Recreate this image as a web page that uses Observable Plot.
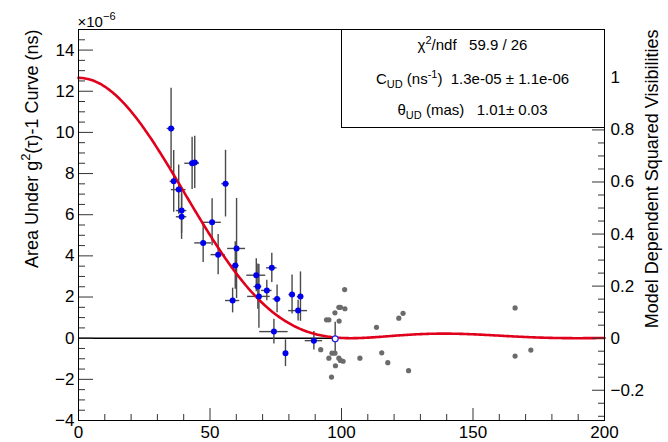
<!DOCTYPE html>
<html><head><meta charset="utf-8">
<script src="https://cdn.jsdelivr.net/npm/d3@7"></script>
<script src="https://cdn.jsdelivr.net/npm/@observablehq/plot@0.6"></script>
<style>
html,body{margin:0;padding:0;background:#fff;}
#chart svg{display:block;}
</style></head><body><div id="chart"></div>
<script>
// ---- data (baseline in m, area in units of 1e-6 ns) ----
const blueX  = [35.2, 36.2, 38.1, 39.2, 39.2, 43.2, 44.2, 47.4, 50.8, 53.1, 55.9, 58.6, 59.6, 60.1, 67.6, 68.2, 68.6, 71.6, 73.5, 75.5, 74.3, 78.7, 81.2, 84.4, 83.5, 89.5];
const blueY  = [10.19, 7.62, 7.22, 6.2, 5.9, 8.5, 8.54, 4.63, 5.63, 4.06, 7.51, 1.83, 3.53, 4.36, 3.06, 2.51, 2.03, 2.32, 3.42, 1.91, 0.32, -0.73, 2.12, 2.02, 1.34, -0.12];
const blueEx = [1.5, 1.4, 2.8, 2.0, 2.0, 2.8, 1.6, 3.2, 3.5, 2.7, 1.4, 2.7, 1.5, 3.4, 3.6, 1.5, 4.3, 2.0, 2.0, 1.5, 5.4, 0.5, 1.2, 1.2, 3.6, 3.3];
const blueEy = [1.96, 1.5, 1.2, 1.1, 1.1, 1.27, 1.27, 0.95, 1.14, 0.98, 1.62, 0.6, 1.15, 2.43, 0.8, 1.1, 1.55, 0.5, 0.71, 0.68, 0.6, 0.65, 0.95, 1.2, 0.5, 0.45];
const edgeX  = [97.6];
const edgeY  = [-0.03];
const edgeEy = [0.8];
const grayX = [101.2, 99.0, 99.6, 101.3, 97.5, 94.3, 95.2, 99.1, 92.1, 96.4, 97.5, 95.2, 99.0, 99.6, 100.6, 97.7, 96.2, 107.0, 113.3, 115.3, 117.6, 121.8, 123.4, 125.5, 166.0, 166.0, 172.0];
const grayY = [2.36, 1.5, 1.5, 1.43, 1.23, 0.89, 0.89, 0.83, -0.56, -0.73, -0.73, -0.97, -0.97, -1.08, -1.12, -1.34, -1.89, -0.97, 0.53, -0.71, -1.19, 0.97, 1.21, -1.58, 1.47, -0.87, -0.58];

// fit parameters (uniform disk)
const fitThetaMas = 1.01;
const fitLambdaNm = 416;
const fitC = 12.65;

// axes
const xMajor = [0, 50, 100, 150, 200];
const xMinor = d3.range(10, 200, 10).filter(v => v % 50 !== 0);
const yMajor = [-4, -2, 0, 2, 4, 6, 8, 10, 12, 14];
const yMinor = d3.range(-3.5, 15, 0.5).filter(v => v % 2 !== 0);
const rMajor = [-0.2, 0, 0.2, 0.4, 0.6, 0.8, 1];
const rLabels = ["\u22120.2", "0", "0.2", "0.4", "0.6", "0.8", "1"];
const rMinor = [-0.3, -0.25, -0.15, -0.1, -0.05, 0.05, 0.1, 0.15, 0.25, 0.3, 0.35, 0.45, 0.5, 0.55, 0.65, 0.7, 0.75, 0.85, 0.9, 0.95, 1.05, 1.1, 1.15];

const yTitleSegs = [["Area Under g", ""], ["2", "sup"], ["(\u03c4)-1 Curve (ns)", ""]];
const rTitle = "Model Dependent Squared Visibilities";
const expSegs = [["\u00d710", ""], ["\u22126", "sup"]];
const statSegs = [
  [["\u03c7", ""], ["2", "sup"], ["/ndf   59.9 / 26", ""]],
  [["C", ""], ["UD", "sub"], [" (ns", ""], ["-1", "sup"], [")  1.3e-05 \u00b1 1.1e-06", ""]],
  [["\u03b8", ""], ["UD", "sub"], [" (mas)   1.01\u00b1 0.03", ""]]
];

// ---- derived ----
const blue = blueX.map((x, i) => ({x, y: blueY[i], ex: blueEx[i], ey: blueEy[i]}));
const edge = edgeX.map((x, i) => ({x, y: edgeY[i], ey: edgeEy[i]}));
const gray = grayX.map((x, i) => ({x, y: grayY[i]}));

function besselJ1(u) {
  const q = u * u / 4; let term = u / 2, sum = 0;
  for (let k = 0; k < 60; k++) { sum += term; term *= -q / ((k + 1) * (k + 2)); }
  return sum;
}
const thetaRad = fitThetaMas * Math.PI / (180 * 3600 * 1000);
function model(b) {
  const u = Math.PI * thetaRad * b / (fitLambdaNm * 1e-9);
  const v = u === 0 ? 1 : 2 * besselJ1(u) / u;
  return fitC * v * v;
}
const curve = d3.range(0, 200.001, 0.5).map(b => ({b, v: model(b)}));

const W = 668, H = 442, mL = 78, mR = 64, mT = 29, mB = 22;
const fw = W - mL - mR, fh = H - mT - mB;
const font = "'Liberation Sans', Arial, Helvetica, sans-serif";
const joinSegs = s => s.map(d => d[0]).join("");

const plot = Plot.plot({
  width: W, height: H,
  marginLeft: mL, marginRight: mR, marginTop: mT, marginBottom: mB,
  style: {fontFamily: font, fontSize: "17px", color: "black", background: "white"},
  x: {domain: [0, 200]},
  y: {domain: [-4, 15]},
  marks: [
    Plot.ruleY([0], {x1: 0, x2: edgeX[0], stroke: "black", strokeWidth: 1.5}),
    Plot.ruleX(blue, {x: "x", y1: d => d.y - d.ey, y2: d => d.y + d.ey, stroke: "#4a4a4a", strokeWidth: 1.4}),
    Plot.ruleY(blue, {y: "y", x1: d => d.x - d.ex, x2: d => d.x + d.ex, stroke: "#4a4a4a", strokeWidth: 1.4}),
    Plot.ruleX(edge, {x: "x", y1: d => d.y - d.ey, y2: d => d.y + d.ey, stroke: "#4a4a4a", strokeWidth: 1.4}),
    Plot.dot(gray, {x: "x", y: "y", r: 2.6, fill: "#6b6b6b"}),
    Plot.line(curve, {x: "b", y: "v", stroke: "#e0001b", strokeWidth: 2.6}),
    Plot.dot(blue, {x: "x", y: "y", r: 3, fill: "#0000ee"}),
    Plot.dot(edge, {x: "x", y: "y", r: 3, fill: "white", stroke: "#2020ee", strokeWidth: 1.2}),
    // ticks (inside the frame)
    Plot.ruleY(yMajor, {y: d => d, insetRight: fw - 15, stroke: "#333"}),
    Plot.ruleY(yMinor, {y: d => d, insetRight: fw - 7, stroke: "#333"}),
    Plot.ruleX(xMajor, {x: d => d, insetTop: fh - 12, stroke: "#333"}),
    Plot.ruleX(xMinor, {x: d => d, insetTop: fh - 6, stroke: "#333"}),
    Plot.ruleY(rMajor, {y: d => d * fitC, insetLeft: fw - 12, stroke: "#333"}),
    Plot.ruleY(rMinor, {y: d => d * fitC, insetLeft: fw - 6, stroke: "#333"}),
    Plot.frame({stroke: "black"}),
    Plot.axisY({ticks: yMajor, tickSize: 0, tickPadding: 4, fontSize: 17, label: null}),
    Plot.axisX({ticks: xMajor, tickSize: 0, tickPadding: 5, fontSize: 17, label: null}),
    Plot.text(rMajor, {y: d => d * fitC, text: (d, i) => rLabels[i], frameAnchor: "right", dx: 6, textAnchor: "start", fontSize: 17}),
    Plot.text([joinSegs(yTitleSegs)], {frameAnchor: "top-left", rotate: -90, textAnchor: "end", lineAnchor: "bottom", dx: -41, fontSize: 18}),
    Plot.text([rTitle], {frameAnchor: "top-right", rotate: -90, textAnchor: "end", lineAnchor: "bottom", dx: 53, fontSize: 18}),
    Plot.text([joinSegs(expSegs)], {frameAnchor: "top-left", textAnchor: "start", lineAnchor: "bottom", dx: -1, dy: -3, fontSize: 15}),
    // stats box
    Plot.frame({insetLeft: 263, insetBottom: 293, fill: "white", stroke: "black"}),
    ...statSegs.map((s, i) => Plot.text([joinSegs(s)], {frameAnchor: "top-left", dx: 394, dy: [16, 49.5, 80.5][i], textAnchor: "middle", lineAnchor: "middle", fontSize: 15}))
  ]
});

function rich(node, segs, size) {
  const sel = d3.select(node);
  sel.text(null).style("white-space", "pre");
  let shift = 0;
  for (const [t, kind] of segs) {
    const target = kind === "sub" ? size * 0.3 : kind === "sup" ? -size * 0.42 : 0;
    const ts = sel.append("tspan").text(t).attr("dy", target - shift);
    if (kind) ts.attr("font-size", Math.round(size * 0.7));
    shift = target;
  }
}
const richMap = new Map([[joinSegs(yTitleSegs), [yTitleSegs, 18]], [joinSegs(expSegs), [expSegs, 15]], ...statSegs.map(s => [joinSegs(s), [s, 15]])]);
d3.select(plot).selectAll("text").each(function() {
  const hit = richMap.get(this.textContent);
  if (hit) rich(this, hit[0], hit[1]);
});

document.getElementById("chart").append(plot);
</script>
</body></html>
